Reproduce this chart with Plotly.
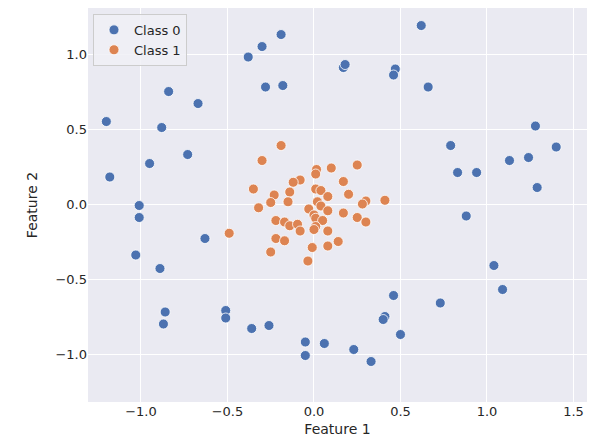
import plotly.graph_objects as go

# Class 0 (outer ring)
x0 = [-1.20, -1.18, -1.01, -1.01, -1.03, -0.88, -0.84, -0.95, -0.73, -0.67,
      -0.89, -0.86, -0.87, -0.63, -0.51, -0.51, -0.36, -0.26, -0.38, -0.30,
      -0.19, -0.28, -0.18, 0.17, 0.18, 0.47, 0.46, 0.62, 0.66, 0.79,
      0.83, 0.94, 0.88, 1.13, 1.28, 1.24, 1.29, 1.40, 1.04, 1.09,
      0.73, 0.46, 0.41, 0.40, 0.50, 0.33, 0.23, 0.06, -0.05, -0.05]
y0 = [0.55, 0.18, -0.01, -0.09, -0.34, 0.51, 0.75, 0.27, 0.33, 0.67,
      -0.43, -0.72, -0.80, -0.23, -0.71, -0.76, -0.83, -0.81, 0.98, 1.05,
      1.13, 0.78, 0.79, 0.91, 0.93, 0.90, 0.86, 1.19, 0.78, 0.39,
      0.21, 0.21, -0.08, 0.29, 0.52, 0.31, 0.11, 0.38, -0.41, -0.57,
      -0.66, -0.61, -0.75, -0.77, -0.87, -1.05, -0.97, -0.93, -0.92, -1.01]

# Class 1 (inner cluster)
x1 = [-0.19, -0.30, 0.25, 0.10, 0.015, 0.01, -0.08, -0.12, 0.17, -0.35,
      -0.23, -0.14, 0.01, 0.04, 0.08, 0.20, 0.30, 0.28, 0.41, -0.25,
      -0.15, 0.02, 0.04, -0.32, -0.03, 0.08, 0.00, 0.17, 0.25, 0.30,
      0.01, 0.05, -0.22, -0.17, -0.14, -0.095, -0.08, 0.01, 0.00, 0.08,
      -0.49, -0.22, -0.17, 0.14, -0.01, 0.08, -0.25, -0.035]
y1 = [0.39, 0.29, 0.26, 0.24, 0.23, 0.20, 0.16, 0.145, 0.15, 0.10,
      0.06, 0.08, 0.10, 0.09, 0.05, 0.065, 0.02, 0.0, 0.025, 0.01,
      0.015, 0.015, -0.013, -0.025, -0.033, -0.045, -0.073, -0.06, -0.09, -0.12,
      -0.095, -0.11, -0.11, -0.12, -0.145, -0.135, -0.18, -0.15, -0.17, -0.18,
      -0.195, -0.23, -0.245, -0.25, -0.29, -0.28, -0.32, -0.38]

fig = go.Figure()
for xs, ys, name, color in [(x0, y0, "Class 0", "#4C72B0"), (x1, y1, "Class 1", "#DD8452")]:
    fig.add_trace(go.Scatter(x=xs, y=ys, mode="markers", name=name,
                             marker=dict(color=color, size=10,
                                         line=dict(color="white", width=0.8))))

# the page has an 8px body margin, so the figure is offset by that
fig.update_layout(
    width=579, height=432,
    margin=dict(l=80, r=0, t=0, b=38),
    plot_bgcolor="#EAEAF2", paper_bgcolor="white",
    font=dict(family="DejaVu Sans", size=13, color="#262626"),
    legend=dict(x=0.01, y=0.985, xanchor="left", yanchor="top",
                bgcolor="rgba(240,240,246,0.85)", bordercolor="#CCCCCC",
                borderwidth=1, font=dict(size=13), tracegroupgap=0),
    xaxis=dict(title=dict(text="Feature 1", standoff=6, font=dict(size=14)),
               range=[-1.306, 1.578], automargin=False,
               tickvals=[-1.0, -0.5, 0.0, 0.5, 1.0, 1.5],
               ticktext=["\u22121.0", "\u22120.5", "0.0", "0.5", "1.0", "1.5"],
               gridcolor="white", gridwidth=1.2, zeroline=False, showline=False),
    yaxis=dict(title=dict(text="Feature 2", standoff=14, font=dict(size=14)),
               range=[-1.32, 1.307], automargin=False,
               tickvals=[-1.0, -0.5, 0.0, 0.5, 1.0],
               ticktext=["\u22121.0", "\u22120.5", "0.0", "0.5", "1.0"],
               gridcolor="white", gridwidth=1.2, zeroline=False, showline=False),
)

fig.write_html("out.html")
